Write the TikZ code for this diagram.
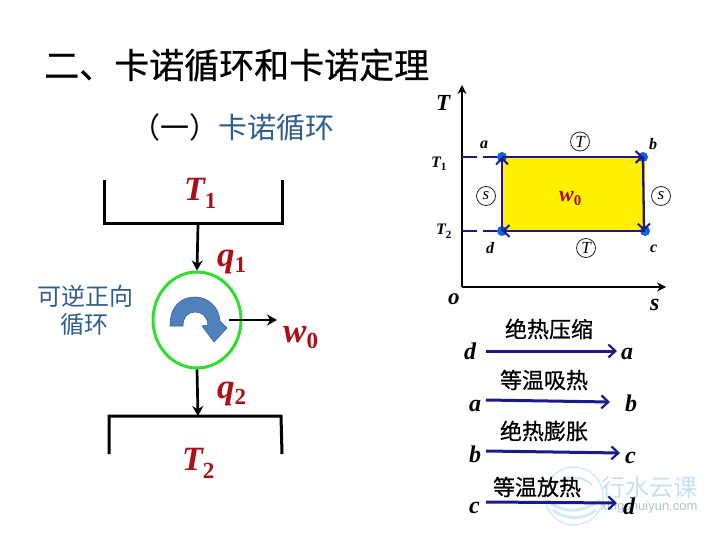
\documentclass[tikz,border=0pt]{standalone}
\usepackage{fontspec}
\setmainfont{Liberation Serif}
\newfontfamily\cjk{Noto Sans CJK SC}
\newfontfamily\cjkb[FakeBold=0.6]{Noto Sans CJK SC}
\newfontfamily\wmfont{Liberation Sans}
\usetikzlibrary{arrows.meta,shapes.geometric}
\definecolor{symred}{HTML}{AC1016}
\definecolor{txtblue}{HTML}{2F5E8E}
\definecolor{navy}{HTML}{1A1A8E}
\definecolor{dotblue}{HTML}{1262DC}
\definecolor{ringgreen}{HTML}{2EDD2E}
\definecolor{swirl}{HTML}{4F81BD}
\definecolor{wm}{HTML}{C4E0F2}
\newcommand{\fsz}[1]{\fontsize{#1}{#1}\selectfont}
\newcommand{\bisym}[4]{\fsz{#1}\bfseries\itshape #2\raisebox{#4}{\fsz{\numexpr#1*2/3\relax}\upshape #3}}
\tikzset{
  x=1pt,y=-1pt,
  lab/.style={inner sep=0pt,anchor=base west},
  heavy/.style={lab,text=symred},
  dark/.style={lab,text=black},
  wall/.style={draw=black,line width=3pt,line cap=butt,line join=miter},
  flow/.style={draw=black,line width=2.7pt,-{Stealth[length=10pt,width=11pt]}},
  cyc/.style={draw=navy,line width=2.3pt,-{Straight Barb[length=6pt,width=12pt,line width=2pt]}},
  proc/.style={draw=navy,line width=3pt,-{Straight Barb[length=7pt,width=13pt,line width=2.2pt]}},
  dot/.style={circle,fill=dotblue,inner sep=0pt,minimum size=10pt},
  ring/.style={circle,draw=black!85,line width=0.8pt,inner sep=0pt,minimum size=19pt,font=\fsz{17}\itshape},
  axisline/.style={draw=black,line width=2.6pt,-{Stealth[length=9pt,width=9pt]}},
  zh/.style={inner sep=0pt,font=\cjkb\fsz{22},text=black},
}
\begin{document}
\begin{tikzpicture}
\useasboundingbox (0,0) rectangle (720,540);
\fill[white] (0,0) rectangle (720,540);

% titles
\node[inner sep=0pt,anchor=west,font=\cjkb\fsz{35}] (title) at (44,65) {二、卡诺循环和卡诺定理};
\node[inner sep=0pt,anchor=west,font=\cjk\fsz{29}] (sub) at (131,127) {（一）\textcolor{txtblue}{卡诺循环}};

% left: reservoirs
\draw[wall] (104,180) -- (104,224) -- (282,224) -- (282,180);
\draw[wall] (109,454) -- (109,416) -- (281,416) -- (282,454);
\coordinate (hot) at (198,224);
\coordinate (cold) at (198,416);
\node[ellipse,draw=ringgreen,line width=3pt,minimum width=88pt,minimum height=96pt,inner sep=0pt] (engine) at (197,320) {};
\coordinate (wstart) at (229,320);
\coordinate (wend) at (277,320);
\draw[flow] (hot) -- (engine.north);
\draw[flow] (engine.south) -- (cold);
\draw[fill=swirl,draw=swirl!75!black,line width=0.6pt]
  (170,326) .. controls (170,305) and (182,297) .. (195,297)
  .. controls (208,297) and (219,307) .. (220,321)
  -- (227,328) -- (214,342) -- (202,326) -- (208,325)
  .. controls (207,316) and (202,312) .. (195,312)
  .. controls (188,312) and (183,317) .. (183,326) -- cycle;
\draw[flow] (wstart) -- (wend);

\node[heavy] (T1big) at (184,201) {\bisym{34}{T}{1}{-8pt}};
\node[heavy] (q1) at (217,266) {\bisym{35}{q}{1}{-6pt}};
\node[heavy] (w0big) at (283,342) {\bisym{35}{w}{0}{-6pt}};
\node[heavy] (q2) at (217,398) {\bisym{35}{q}{2}{-6pt}};
\node[heavy] (T2big) at (182,470) {\bisym{34}{T}{2}{-8pt}};
\node[inner sep=0pt,align=center,font=\cjk\fsz{24},text=txtblue] (rev) at (85,310) {可逆正向\\[4pt]循环};

% right: T-s diagram
\coordinate (o) at (462,287);
\coordinate (ttop) at (462,85);
\coordinate (send) at (666,287);
\coordinate (pa) at (502,157);
\coordinate (pb) at (643,157);
\coordinate (pc) at (645,231);
\coordinate (pd) at (502,231);
\coordinate (t1) at (462,157);
\coordinate (t2) at (462,231);
\fill[yellow!97!orange] (pa) rectangle (pc);
\fill[yellow] (552,175) rectangle (610,215);
\draw[axisline] (o) -- (ttop);
\draw[axisline] (o) -- (send);
\draw[navy,line width=2.2pt,dash pattern=on 15pt off 6pt] (t1) -- (pa);
\draw[navy,line width=2.2pt,dash pattern=on 15pt off 6pt] (t2) -- (pd);
\node[dot] (da) at (pa) {};
\node[dot] (db) at (pb) {};
\node[dot] (dc) at (pc) {};
\node[dot] (dd) at (pd) {};
\draw[cyc] (da.center) -- (db.center);
\draw[cyc] (db.center) -- (644,231);
\draw[cyc] (dc.center) -- (dd.center);
\draw[cyc] (dd.center) -- (da.center);

\node[ring] (rt1) at (580,141.5) {T};
\node[ring] (rt2) at (586,248) {T};
\node[ring] (rs1) at (486,196) {s};
\node[ring] (rs2) at (661,196) {s};
\node[dark] (la) at (480,149) {\fsz{16}\bfseries\itshape a};
\node[dark] (lb) at (649,150) {\fsz{16}\bfseries\itshape b};
\node[dark] (lc) at (650,252) {\fsz{16}\bfseries\itshape c};
\node[dark] (ld) at (486,254) {\fsz{16}\bfseries\itshape d};
\node[dark] (lt1) at (431,168) {\bisym{16}{T}{1}{-3pt}};
\node[dark] (lt2) at (436,235) {\bisym{16}{T}{2}{-3pt}};
\node[dark] (lT) at (436,111) {\fsz{23}\bfseries\itshape T};
\node[dark] (lo) at (448,304) {\fsz{23}\bfseries\itshape o};
\node[dark] (ls) at (650,310) {\fsz{24}\bfseries\itshape s};
\node[heavy] (w0) at (559,202) {\bisym{22}{w}{0}{-4pt}};

% watermark (below the list texts)
\begin{scope}[opacity=0.7]
\draw[wm,line width=1.4pt] (574,496) circle [radius=29];
\draw[wm,line width=3pt] (547,500) .. controls (560,512) and (580,515) .. (600,500);
\draw[wm,line width=3pt] (553,510) .. controls (565,520) and (585,520) .. (596,510);
\draw[wm,line width=2pt] (556,485) .. controls (566,475) and (582,475) .. (592,485);
\end{scope}
\node[inner sep=0pt,font=\cjk\fsz{24},text=wm] (wma) at (649,487) {行水云课};
\node[inner sep=0pt,font=\wmfont\fsz{13},text=wm!70!gray] (wmb) at (649,507) {xingshuiyun.com};

% right: process list
\node[dark] (r1a) at (464,359) {\fsz{24}\bfseries\itshape d};
\node[dark] (r1b) at (621,359) {\fsz{24}\bfseries\itshape a};
\draw[proc] (486,351) -- (617,351);
\node[zh] (r1t) at (549,329) {绝热压缩};
\node[dark] (r2a) at (469,411) {\fsz{24}\bfseries\itshape a};
\node[dark] (r2b) at (625,411) {\fsz{24}\bfseries\itshape b};
\draw[proc] (486,400) -- (610,402);
\node[zh] (r2t) at (544,380) {等温吸热};
\node[dark] (r3a) at (469,462) {\fsz{24}\bfseries\itshape b};
\node[dark] (r3b) at (625,463) {\fsz{24}\bfseries\itshape c};
\draw[proc] (486,451) -- (620,453);
\node[zh] (r3t) at (544,431) {绝热膨胀};
\node[dark] (r4a) at (469,513) {\fsz{24}\bfseries\itshape c};
\node[dark] (r4b) at (623,514) {\fsz{24}\bfseries\itshape d};
\draw[proc] (486,502) -- (617,503);
\node[zh] (r4t) at (537,487) {等温放热};
\end{tikzpicture}
\end{document}
